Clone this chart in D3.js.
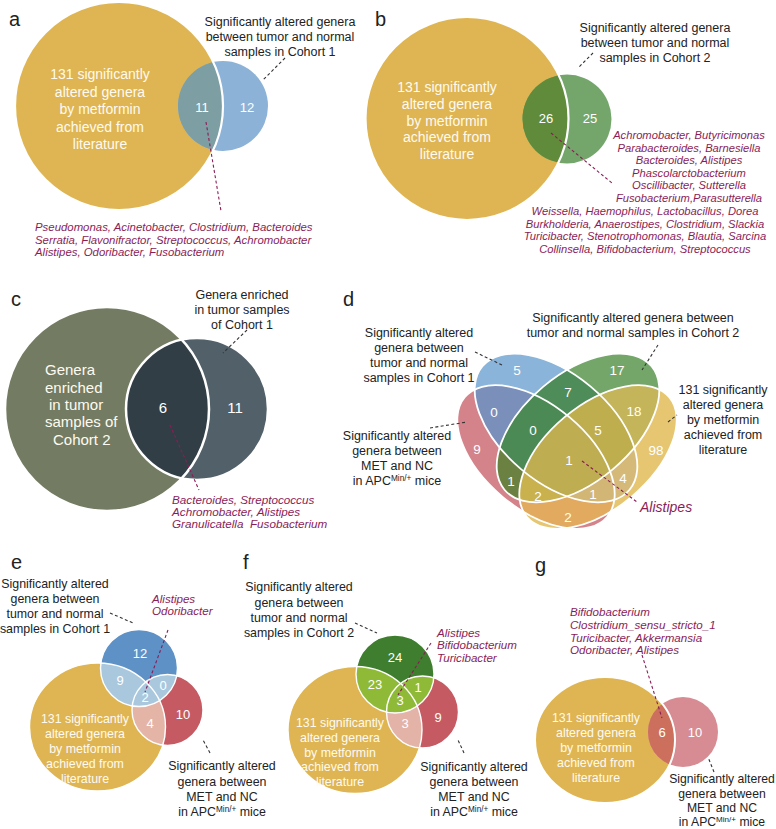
<!DOCTYPE html>
<html><head><meta charset="utf-8">
<script src="https://cdn.jsdelivr.net/npm/d3@7"></script>
<style>
body{margin:0;background:#fff}
text{font-family:"Liberation Sans",Arial,Helvetica,sans-serif}
</style>
</head><body>
<svg id="chart" width="776" height="829"></svg>
<script>
// ---------------- DATA ----------------
const panelLetters = ["a","b","c","d","e","f","g"];
const metforminLabel = ["131 significantly","altered genera","by metformin","achieved from","literature"];
const cohort1Label3 = ["Significantly altered genera","between tumor and normal","samples in Cohort 1"];
const cohort2Label3 = ["Significantly altered genera","between tumor and normal","samples in Cohort 2"];
const cohort1Label4 = ["Significantly altered","genera between","tumor and normal","samples in Cohort 1"];
const cohort2Label4 = ["Significantly altered","genera between","tumor and normal","samples in Cohort 2"];
const cohort2Label2 = ["Significantly altered genera between","tumor and normal samples in Cohort 2"];
const metNcLabel = ["Significantly altered","genera between","MET and NC","in APC^{Min/+} mice"];

// panel a: [metformin ∩ cohort1, cohort1 only]
const aCounts = [11, 12];
const aGenera = ["Pseudomonas, Acinetobacter, Clostridium, Bacteroides",
                 "Serratia, Flavonifractor, Streptococcus, Achromobacter",
                 "Alistipes, Odoribacter, Fusobacterium"];
// panel b: [metformin ∩ cohort2, cohort2 only]
const bCounts = [26, 25];
const bGenera1 = ["Achromobacter, Butyricimonas","Parabacteroides, Barnesiella","Bacteroides, Alistipes",
                  "Phascolarctobacterium","Oscillibacter, Sutterella","Fusobacterium,Parasutterella"];
const bGenera2 = ["Weissella, Haemophilus, Lactobacillus, Dorea","Burkholderia, Anaerostipes, Clostridium, Slackia",
                  "Turicibacter, Stenotrophomonas, Blautia, Sarcina","Collinsella, Bifidobacterium, Streptococcus"];
// panel c: [overlap, cohort1 only]
const cCounts = [6, 11];
const cInnerLabel = ["Genera","enriched","in tumor","samples of","Cohort 2"];
const cOuterLabel = ["Genera enriched","in tumor samples","of Cohort 1"];
const cGenera = ["Bacteroides, Streptococcus","Achromobacter, Alistipes","Granulicatella  Fusobacterium"];
// panel d: R = MET vs NC, B = cohort1, G = cohort2, Y = metformin literature
const dRegions = ["B","G","Y","R","BG","BR","BGR","GY","BGY","BGRY","BY","GR","GRY","BRY","RY"];
const dCounts  = [5, 17, 98, 9, 7, 0, 0, 18, 5, 1, 4, 1, 2, 1, 2];
const dGenera = ["Alistipes"];
// panel e: B = cohort1, Y = metformin, R = MET vs NC
const eRegions = ["B","BY","BR","BRY","RY","R"];
const eCounts  = [12, 9, 0, 2, 4, 10];
const eGenera = ["Alistipes","Odoribacter"];
// panel f: G = cohort2
const fRegions = ["G","GY","GR","GRY","RY","R"];
const fCounts  = [24, 23, 1, 3, 3, 9];
const fGenera = ["Alistipes","Bifidobacterium","Turicibacter"];
// panel g: [metformin ∩ MET, MET only]
const gCounts = [6, 10];
const gGenera = ["Bifidobacterium","Clostridium_sensu_stricto_1","Turicibacter, Akkermansia","Odoribacter, Alistipes"];

// ---------------- LAYOUT / STYLE ----------------
const W = 776, H = 829;
const svg = d3.select("#chart");
const defs = svg.append("defs");
const BLACK = "#222", PURPLE = "#8a1d57", LEADER = "#333";
const NUM = "#ffffff", INNERTXT = "#fffaf0";

function paintVenn(id, shapes, fills, strokeKeys, sw) {
  const g = svg.append("g");
  Object.entries(shapes).forEach(([k, s]) => {
    defs.append("clipPath").attr("id", id + k).append("ellipse")
      .attr("cx", s.cx).attr("cy", s.cy).attr("rx", s.rx).attr("ry", s.ry ?? s.rx)
      .attr("transform", `rotate(${s.rot || 0} ${s.cx} ${s.cy})`);
  });
  Object.keys(fills).sort((a, b) => a.length - b.length).forEach(code => {
    let sel = g.append("g");
    code.split("").forEach(k => { sel = sel.append("g").attr("clip-path", `url(#${id}${k})`); });
    sel.append("rect").attr("x", 0).attr("y", 0).attr("width", W).attr("height", H).attr("fill", fills[code]);
  });
  strokeKeys.forEach(k => {
    const s = shapes[k];
    g.append("ellipse").attr("cx", s.cx).attr("cy", s.cy).attr("rx", s.rx).attr("ry", s.ry ?? s.rx)
      .attr("transform", `rotate(${s.rot || 0} ${s.cx} ${s.cy})`)
      .attr("fill", "none").attr("stroke", "#fff").attr("stroke-width", sw);
  });
  return g;
}

// one <text> block per label, one <tspan> per line
function textLines(lines, o) {
  const size = o.size, dy = o.dy;
  const t = svg.append("text")
    .attr("font-size", size).attr("fill", o.fill)
    .attr("text-anchor", o.anchor || "middle")
    .attr("font-style", o.italic ? "italic" : null)
    .style("white-space", "pre");
  lines.forEach((ln, i) => {
    const x = Array.isArray(o.x) ? o.x[i] : o.x;
    const line = t.append("tspan").attr("x", x).attr("y", o.y0 + i * dy + 0.358 * size);
    const parts = ln.split(/\^\{([^}]*)\}/);
    if (parts.length === 1) { line.text(ln); return; }
    line.append("tspan").text(parts[0]);
    line.append("tspan").attr("font-size", size * 0.66).attr("dy", -size * 0.36).text(parts[1]);
    line.append("tspan").attr("dy", size * 0.36).text(parts[2]);
  });
}

function leader(x1, y1, x2, y2, color) {
  svg.append("line").attr("x1", x1).attr("y1", y1).attr("x2", x2).attr("y2", y2)
    .attr("stroke", color).attr("stroke-width", 1.1).attr("stroke-dasharray", "3,2.4");
}

function numbers(values, pos, size) {
  svg.append("g").selectAll("text").data(values).join("text")
    .attr("x", (d, i) => pos[i][0]).attr("y", (d, i) => pos[i][1] + 0.358 * size)
    .attr("text-anchor", "middle").attr("font-size", size).attr("fill", NUM)
    .text(d => d);
}

// ---------- panel letters ----------
const letterPos = [[9,26],[375,26],[11,306],[343,306],[11,569],[243,569],[535,572]];
svg.append("g").selectAll("text").data(panelLetters).join("text")
  .attr("x", (d, i) => letterPos[i][0]).attr("y", (d, i) => letterPos[i][1])
  .attr("font-size", 20).attr("fill", BLACK).text(d => d);

const YEL = "#deb552";

// ---------- panel a ----------
paintVenn("a", {Y:{cx:119,cy:106,rx:104}, B:{cx:223,cy:106,rx:45}},
  {Y:YEL, B:"#8cb2d7", BY:"#7d9ea2"}, ["Y"], 2.2);
textLines(metforminLabel, {x:100, y0:74, dy:17.5, size:14, fill:INNERTXT});
numbers(aCounts, [[202,107],[247,107]], 13);
textLines(cohort1Label3, {x:280, y0:22, dy:15, size:12.5, fill:BLACK});
leader(285,58,263,80,LEADER);
leader(206,122,221,211,PURPLE);
textLines(aGenera, {x:35, y0:227, dy:12.6, size:11.4, fill:PURPLE, anchor:"start", italic:true});

// ---------- panel b ----------
paintVenn("b", {Y:{cx:467,cy:118.5,rx:101.5}, G:{cx:567,cy:119,rx:44.5}},
  {Y:YEL, G:"#74a66c", GY:"#5f8b3b"}, ["Y"], 2.2);
textLines(metforminLabel, {x:447, y0:87, dy:16.8, size:14, fill:INNERTXT});
numbers(bCounts, [[546,118],[590,118]], 13);
textLines(cohort2Label3, {x:655, y0:28, dy:15, size:12.5, fill:BLACK});
leader(593,53,578,68,LEADER);
leader(551,133,612,183,PURPLE);
textLines(bGenera1, {x:689, y0:135, dy:12.5, size:11.2, fill:PURPLE, italic:true});
textLines(bGenera2, {x:645, y0:211, dy:12.7, size:11.2, fill:PURPLE, italic:true});

// ---------- panel c ----------
paintVenn("c", {A:{cx:107,cy:409,rx:102}, C:{cx:197,cy:409,rx:71}},
  {A:"#737c62", C:"#526069", AC:"#323e46"}, ["A","C"], 2.5);
textLines(cInnerLabel, {x:[45,45,49,45,53], y0:370, dy:17.3, size:15, fill:INNERTXT, anchor:"start"});
numbers(cCounts, [[163,408],[235,408]], 15);
textLines(cOuterLabel, {x:242, y0:295, dy:15, size:12.5, fill:BLACK});
leader(247,330,223,353,LEADER);
leader(170,425,199,490,PURPLE);
textLines(cGenera, {x:172, y0:500, dy:12.1, size:11.7, fill:PURPLE, anchor:"start", italic:true});

// ---------- panel d ----------
const dShapes = {
  R:{cx:536,cy:457,rx:93,ry:52,rot:40},
  B:{cx:556,cy:428,rx:96,ry:54,rot:40},
  G:{cx:578,cy:428,rx:96,ry:54,rot:-40},
  Y:{cx:598,cy:457,rx:93,ry:52,rot:-40}
};
const dFillList = ["#8ab4d9","#74a66a","#e6c670","#d4838b","#4e8c5a","#7a8fba","#4b8a55",
                   "#c4b45a","#bfae4e","#bfad52","#d4b978","#6a8142","#c9b14e","#d2b676","#e2aa5e"];
const dFills = {};
dRegions.forEach((r, i) => dFills[r] = dFillList[i]);
paintVenn("d", dShapes, dFills, ["R","B","G","Y"], 1.8);
const dNumPos = {B:[517,370], G:[617,370], Y:[656,450], R:[477,449], BG:[568,392], BR:[494,412],
  BGR:[533,430], GY:[634,411], BGY:[598,430], BGRY:[569,460], BY:[623,478], GR:[511,481],
  GRY:[538,496], BRY:[593,494], RY:[568,517]};
numbers(dCounts, dRegions.map(r => dNumPos[r]), 13.5);
textLines(cohort2Label2, {x:633, y0:318, dy:15, size:12.5, fill:BLACK});
textLines(cohort1Label4, {x:419, y0:333, dy:15, size:12.5, fill:BLACK});
textLines(metNcLabel, {x:397, y0:436, dy:15, size:12.5, fill:BLACK});
textLines(metforminLabel, {x:723, y0:390, dy:15, size:12.5, fill:BLACK});
leader(658,345,642,370,LEADER);
leader(475,352,502,365,LEADER);
leader(430,428,467,422,LEADER);
leader(668,422,677,415,LEADER);
leader(582,461,637,502,PURPLE);
textLines(dGenera, {x:640, y0:507, dy:14, size:14, fill:PURPLE, anchor:"start", italic:true});

// ---------- panel e ----------
const RED = "#c65a63";
paintVenn("e", {Y:{cx:97.5,cy:727,rx:68,ry:64}, B:{cx:139,cy:668,rx:38.5}, R:{cx:167.5,cy:710,rx:35.5}},
  {Y:YEL, B:"#5e91c6", R:RED, BY:"#a9c8de", BR:"#a9c8de", BRY:"#a9c8de", RY:"#e4b5a7"}, ["Y","B","R"], 1.4);
const eNumPos = {B:[140,653], BY:[120,680], BR:[163,685], BRY:[145,697], RY:[150,723], R:[183,714]};
numbers(eCounts, eRegions.map(r => eNumPos[r]), 13);
textLines(metforminLabel, {x:85, y0:719, dy:14.8, size:12.4, fill:INNERTXT});
textLines(cohort1Label4, {x:55, y0:584, dy:15, size:12.4, fill:BLACK});
leader(110,613,133,623,LEADER);
textLines(eGenera, {x:152, y0:598.5, dy:12.7, size:11.6, fill:PURPLE, anchor:"start", italic:true});
leader(168,630,145,692,PURPLE);
textLines(metNcLabel, {x:222, y0:766, dy:15.2, size:12.4, fill:BLACK});
leader(210,753,203,740,LEADER);

// ---------- panel f ----------
paintVenn("f", {Y:{cx:355,cy:730,rx:67,ry:63.5}, G:{cx:395,cy:674,rx:39}, R:{cx:422.5,cy:712,rx:36}},
  {Y:YEL, G:"#3f7e2f", R:RED, GY:"#8fba37", GR:"#8fba37", GRY:"#8fba37", RY:"#e3b3a7"}, ["Y","G","R"], 1.4);
const fNumPos = {G:[395,657], GY:[375,684], GR:[418,687], GRY:[400,700], RY:[405,723], R:[438,717]};
numbers(fCounts, fRegions.map(r => fNumPos[r]), 13);
textLines(metforminLabel, {x:340, y0:723, dy:14.6, size:12.4, fill:INNERTXT});
textLines(cohort2Label4, {x:299, y0:587, dy:15.2, size:12.4, fill:BLACK});
leader(355,623,377,633,LEADER);
textLines(fGenera, {x:437, y0:632.5, dy:12.7, size:11.6, fill:PURPLE, anchor:"start", italic:true});
leader(431,643,398,695,PURPLE);
textLines(metNcLabel, {x:474, y0:767, dy:15, size:12.4, fill:BLACK});
leader(464,753,458,740,LEADER);

// ---------- panel g ----------
paintVenn("g", {Y:{cx:605,cy:740,rx:70,ry:63}, P:{cx:683,cy:732,rx:35}},
  {Y:YEL, P:"#d78b92", PY:"#cc6f5d"}, ["Y"], 2);
numbers(gCounts, [[662,732],[695,732]], 13);
textLines(metforminLabel, {x:596, y0:718, dy:14.8, size:12.4, fill:INNERTXT});
textLines(gGenera, {x:570, y0:612, dy:12.7, size:11.6, fill:PURPLE, anchor:"start", italic:true});
leader(642,655,662,718,PURPLE);
textLines(metNcLabel, {x:722, y0:779, dy:14.3, size:12.2, fill:BLACK});
leader(714,772,708,757,LEADER);
</script>
</body></html>
